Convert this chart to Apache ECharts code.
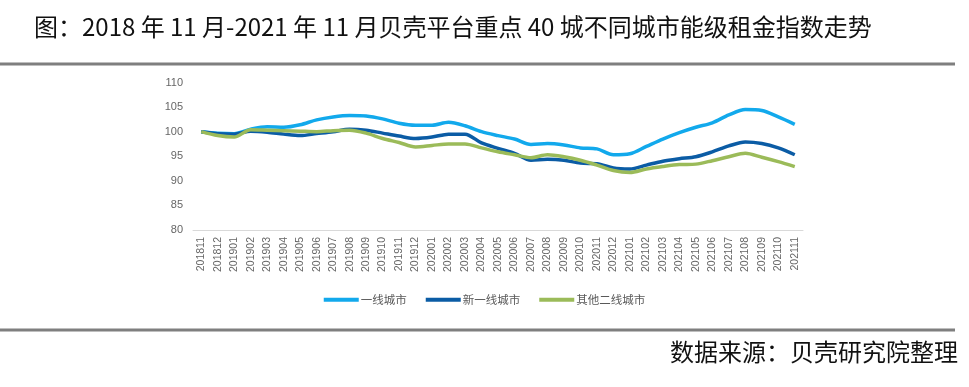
<!DOCTYPE html>
<html>
<head>
<meta charset="utf-8">
<script src="https://cdn.jsdelivr.net/npm/echarts@6/dist/echarts.min.js"></script>
<style>
html,body{margin:0;padding:0;background:#fff;}
#c{width:969px;height:387px;}
</style>
</head>
<body>
<div id="c"></div>
<script>
var categories = ['201811','201812','201901','201902','201903','201904','201905','201906','201907','201908','201909','201910','201911','201912','202001','202002','202003','202004','202005','202006','202007','202008','202009','202010','202011','202012','202101','202102','202103','202104','202105','202106','202107','202108','202109','202110','202111'];
var seriesNames = ['一线城市','新一线城市','其他二线城市'];
var tier1 = [100, 99.7, 99.6, 100.5, 101.0, 100.9, 101.4, 102.4, 103.0, 103.3, 103.2, 102.6, 101.7, 101.3, 101.3, 101.9, 101.2, 100.0, 99.2, 98.5, 97.4, 97.6, 97.3, 96.7, 96.5, 95.3, 95.5, 97.0, 98.5, 99.8, 100.9, 101.8, 103.4, 104.5, 104.3, 103.0, 101.5];
var newTier1 = [100, 99.6, 99.5, 100.1, 99.9, 99.5, 99.2, 99.6, 100.0, 100.5, 100.3, 99.7, 99.1, 98.6, 98.9, 99.5, 99.5, 97.7, 96.6, 95.6, 94.2, 94.4, 94.2, 93.6, 93.5, 92.6, 92.4, 93.2, 94.0, 94.5, 94.9, 95.9, 97.1, 97.9, 97.6, 96.7, 95.3];
var otherTier2 = [100, 99.2, 98.9, 100.4, 100.3, 100.2, 100.1, 100.0, 100.2, 100.3, 99.7, 98.6, 97.8, 96.9, 97.2, 97.5, 97.5, 96.7, 95.9, 95.3, 94.7, 95.3, 94.9, 94.2, 93.2, 92.1, 91.7, 92.4, 92.9, 93.3, 93.4, 94.1, 94.9, 95.6, 94.8, 93.9, 92.9];
var yTicks = {min: 80, max: 110, interval: 5};
var titleText = '图：2018 年 11 月-2021 年 11 月贝壳平台重点 40 城不同城市能级租金指数走势';
var sourceText = '数据来源：贝壳研究院整理';
var colors = ['#12A9EC', '#0B5CA5', '#9BBB59'];

var chart = echarts.init(document.getElementById('c'), null, {renderer: 'canvas'});
function mk(name, data, color) {
  return {
    name: name, type: 'line', data: data, smooth: 0.3, symbol: 'none',
    lineStyle: {color: color, width: 3.5}, itemStyle: {color: color}
  };
}
chart.setOption({
  animation: false,
  backgroundColor: '#ffffff',
  textStyle: {fontFamily: 'Liberation Sans, Arial, sans-serif'},
  title: {
    text: titleText, left: 29, top: 10,
    textStyle: {fontFamily: 'Noto Sans CJK SC', fontSize: 24, fontWeight: 'normal', color: '#111'}
  },
  graphic: [
    {type: 'line', shape: {x1: 0, y1: 64, x2: 955, y2: 64}, style: {stroke: '#7f7f7f', lineWidth: 3}},
    {type: 'line', shape: {x1: 0, y1: 330, x2: 955, y2: 330}, style: {stroke: '#7f7f7f', lineWidth: 3}},
    {type: 'text', right: 11, top: 340, style: {text: sourceText, font: '24px "Noto Sans CJK SC"', fill: '#111'}}
  ],
  legend: {
    top: 289, left: 'center', itemWidth: 35, itemHeight: 4, itemGap: 19,
    icon: 'rect',
    textStyle: {fontSize: 11.5, color: '#595959', fontFamily: 'Noto Sans CJK SC', padding: [0, 0, 0, -3]},
    data: seriesNames
  },
  grid: {left: 193, right: 166, top: 82.5, bottom: 157},
  xAxis: {
    type: 'category', data: categories, boundaryGap: true,
    axisLine: {lineStyle: {color: '#d9d9d9', width: 1}},
    axisTick: {show: false},
    axisLabel: {rotate: 90, fontSize: 10.5, color: '#666', margin: 7, interval: 0}
  },
  yAxis: {
    type: 'value', min: yTicks.min, max: yTicks.max, interval: yTicks.interval,
    axisLine: {show: false}, axisTick: {show: false}, splitLine: {show: false},
    axisLabel: {fontSize: 11, color: '#666', margin: 10}
  },
  series: [
    mk(seriesNames[0], tier1, colors[0]),
    mk(seriesNames[1], newTier1, colors[1]),
    mk(seriesNames[2], otherTier2, colors[2])
  ]
});
</script>
</body>
</html>
